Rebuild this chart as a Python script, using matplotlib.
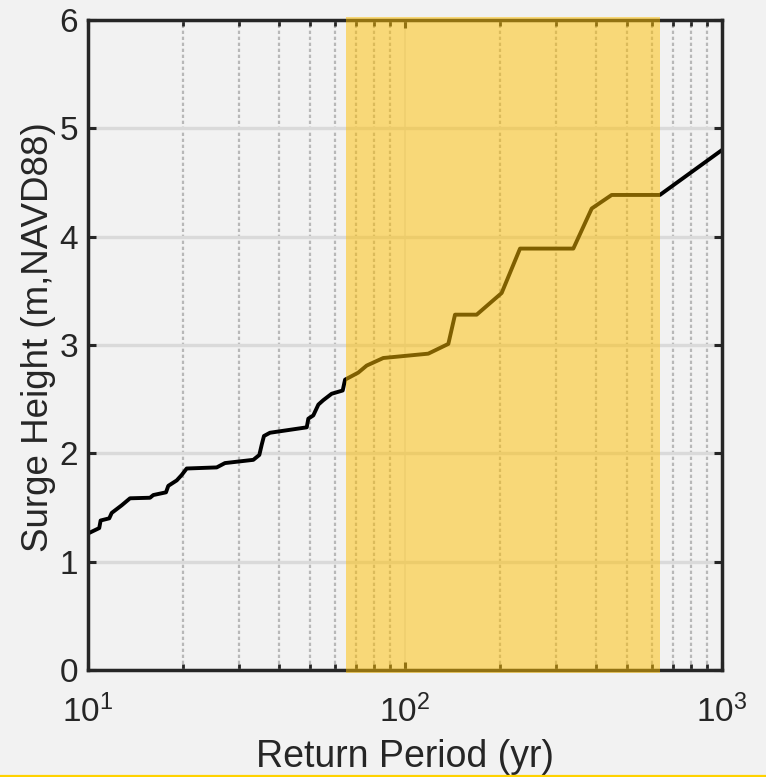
import numpy as np
import matplotlib
matplotlib.use("Agg")
import matplotlib.pyplot as plt
from matplotlib.ticker import LogLocator, NullFormatter
from matplotlib.lines import Line2D

# Data
return_period = [10.0, 10.85, 10.96, 11.67, 11.88, 12.77, 13.57, 15.69, 16.07, 17.62,
                 17.92, 19.05, 19.75, 20.48, 25.47, 27.04, 33.23, 34.71, 35.32, 35.9,
                 37.5, 48.98, 49.55, 51.37, 53.3, 55.2, 58.7, 63.6, 64.7, 71.2,
                 75.7, 85.4, 118.4, 137.0, 143.8, 168.3, 201.8, 230.6, 339.6, 388.2,
                 448.7, 636.8, 1000.0]
surge_height = [1.26, 1.31, 1.38, 1.40, 1.45, 1.52, 1.585, 1.59, 1.615, 1.64,
                1.70, 1.75, 1.80, 1.86, 1.87, 1.91, 1.94, 1.985, 2.08, 2.16,
                2.19, 2.24, 2.32, 2.35, 2.45, 2.49, 2.55, 2.58, 2.68, 2.745,
                2.81, 2.88, 2.92, 3.01, 3.28, 3.28, 3.48, 3.89, 3.89, 4.26,
                4.385, 4.385, 4.80]
shade_range = [65.0, 637.0]
xlim = [10, 1000]
ylim = [0, 6]
yticks = [0, 1, 2, 3, 4, 5, 6]

bg = '#f2f2f2'
dark = '#262626'
plt.rcParams['font.family'] = ['Liberation Sans', 'DejaVu Sans']
plt.rcParams['mathtext.fontset'] = 'custom'
plt.rcParams['mathtext.rm'] = 'Liberation Sans'
plt.rcParams['mathtext.it'] = 'Liberation Sans'

fig = plt.figure(figsize=(7.66, 7.77), dpi=100, facecolor=bg)
ax = fig.add_axes([88/766, 1-670/777, (722-88)/766, (670-20)/777])
ax.set_facecolor(bg)

ax.plot(return_period, surge_height, color='black', lw=2.8, zorder=2)
ax.axvspan(shade_range[0], shade_range[1], ymin=-0.005, ymax=1.005,
           color='#ffbf00', alpha=0.5, lw=0, zorder=3, clip_on=False)

ax.set_xscale('log')
ax.set_xlim(xlim)
ax.set_ylim(ylim)
ax.set_yticks(yticks)
ax.xaxis.set_major_locator(LogLocator(base=10, numticks=10))
ax.xaxis.set_minor_locator(LogLocator(base=10, subs=np.arange(2, 10), numticks=20))
ax.xaxis.set_minor_formatter(NullFormatter())

# grids
ax.grid(True, which='major', axis='y', color='#dadada', lw=2.4, zorder=0)
ax.grid(True, which='major', axis='x', color='#e2e2e2', lw=1.4, zorder=0)
ax.grid(True, which='minor', axis='x', color='#b8b8b8', lw=1.6,
        linestyle=(0, (1.5, 1.2)), zorder=0)
ax.set_axisbelow(True)

for s in ax.spines.values():
    s.set_color(dark)
    s.set_linewidth(2.5)

ax.tick_params(which='major', direction='in', length=6, width=2.2, color=dark,
               top=True, right=True, labelsize=24, labelcolor=dark)
ax.tick_params(axis='y', pad=7)
ax.tick_params(axis='x', which='major', pad=18)
ax.tick_params(which='minor', direction='in', length=4.5, width=2.0, color=dark,
               top=True, right=True)

ax.set_xlabel('Return Period (yr)', fontsize=27, color=dark, labelpad=7)
ax.set_ylabel('Surge Height (m,NAVD88)', fontsize=26.5, color=dark)
ax.yaxis.set_label_coords(-0.05, 0.512)

fig.add_artist(Line2D([0, 1], [1.2/777, 1.2/777], transform=fig.transFigure,
                      color='#ffd200', lw=1.6))

fig.savefig('out.png', dpi=100, facecolor=bg)
